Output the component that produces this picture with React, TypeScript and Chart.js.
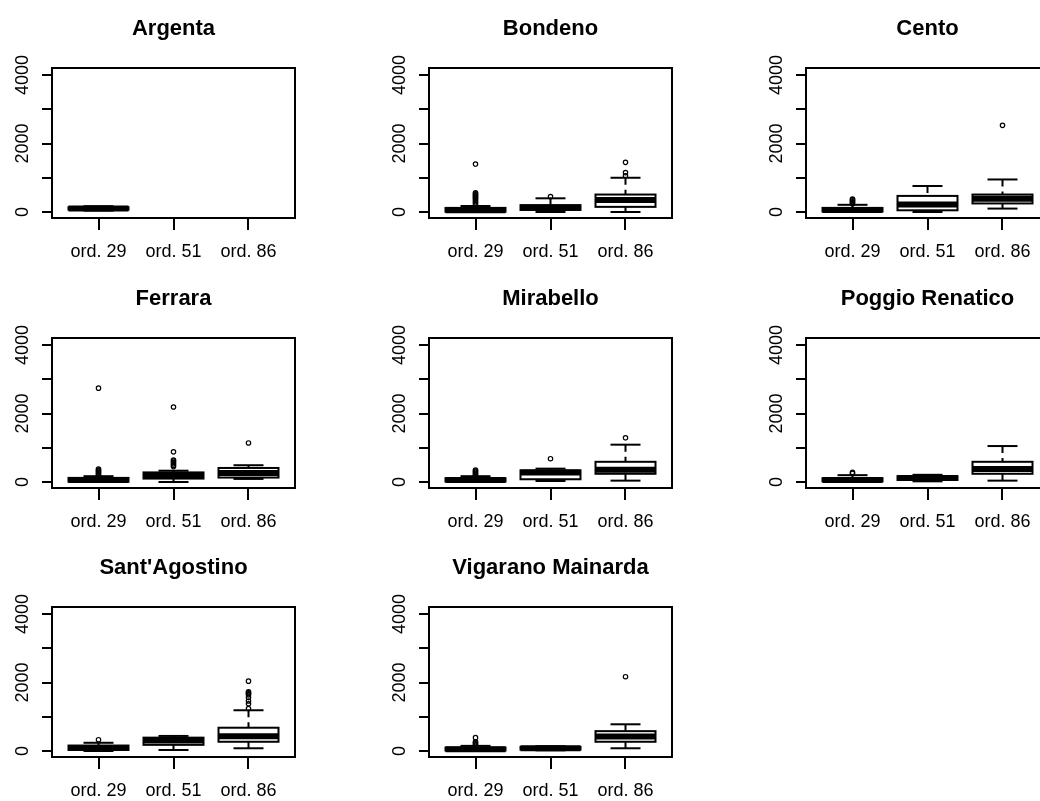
import React, { useEffect, useRef } from "react";
import { Chart, registerables } from "chart.js";

Chart.register(...registerables);

const FONT = '"Liberation Sans", Arial, Helvetica, sans-serif';

const groups = ["ord. 29", "ord. 51", "ord. 86"];
const towns = [
  "Argenta",
  "Bondeno",
  "Cento",
  "Ferrara",
  "Mirabello",
  "Poggio Renatico",
  "Sant'Agostino",
  "Vigarano Mainarda",
];
const yTickValues = [0, 1000, 2000, 3000, 4000];
const yTickLabels = ["0", "", "2000", "", "4000"];
const yMin = -175;
const yMax = 4205;
const xMin = 0.38;
const xMax = 3.62;

// [lower whisker, Q1, median, Q3, upper whisker] per group (null = no data)
const argentaStats = [[40, 70, 105, 140, 170], null, null];
const argentaOutliers = [[], [], []];
const bondenoStats = [[0, 10, 50, 120, 175], [0, 60, 130, 200, 400], [0, 150, 350, 510, 1000]];
const bondenoOutliers = [[220, 260, 300, 340, 380, 410, 440, 470, 500, 530, 560, 1400], [450], [1060, 1150, 1450]];
const centoStats = [[0, 15, 60, 120, 210], [0, 50, 220, 470, 760], [100, 250, 390, 510, 950]];
const centoOutliers = [[240, 270, 300, 330, 360, 380], [], [2530]];
const ferraraStats = [[0, 10, 60, 120, 170], [0, 100, 190, 280, 330], [90, 130, 260, 410, 490]];
const ferraraOutliers = [[200, 230, 260, 290, 320, 350, 380, 2740], [450, 490, 530, 570, 610, 640, 880, 2190], [1140]];
const mirabelloStats = [[0, 15, 60, 110, 170], [30, 80, 280, 340, 390], [40, 240, 360, 590, 1090]];
const mirabelloOutliers = [[200, 230, 260, 290, 320, 350], [680], [1290]];
const poggioStats = [[0, 20, 60, 110, 200], [20, 60, 120, 170, 210], [40, 240, 380, 590, 1050]];
const poggioOutliers = [[250, 280], [], []];
const santAgostinoStats = [[0, 30, 90, 160, 240], [30, 180, 310, 390, 440], [80, 270, 430, 680, 1190]];
const santAgostinoOutliers = [[330], [], [1240, 1380, 1460, 1560, 1640, 1670, 1700, 1730, 2040]];
const vigaranoStats = [[0, 15, 50, 100, 150], [20, 40, 80, 120, 140], [80, 270, 420, 580, 780]];
const vigaranoOutliers = [[180, 210, 240, 270, 390], [], [2170]];

const allStats = [argentaStats, bondenoStats, centoStats, ferraraStats, mirabelloStats, poggioStats, santAgostinoStats, vigaranoStats];
const allOutliers = [argentaOutliers, bondenoOutliers, centoOutliers, ferraraOutliers, mirabelloOutliers, poggioOutliers, santAgostinoOutliers, vigaranoOutliers];

const colLeft = [0, 377, 754];
const rowTop = [0, 270, 539];
const PW = 377;
const PH = 270;

function makeBoxPlugin(stats: (number[] | null)[]) {
  return {
    id: "rbox",
    beforeDatasetsDraw(chart: any) {
      const { ctx, chartArea: ca, scales } = chart;
      const x = scales.x;
      const y = scales.y;
      const seg = (x1: number, y1: number, x2: number, y2: number) => {
        ctx.beginPath();
        ctx.moveTo(x1, y1);
        ctx.lineTo(x2, y2);
        ctx.stroke();
      };
      ctx.save();
      ctx.strokeStyle = "#000";
      ctx.lineCap = "butt";
      stats.forEach((s, i) => {
        if (!s) return;
        const cx = x.getPixelForValue(i + 1);
        const hw = x.getPixelForValue(i + 1.4) - cx;
        const sw = hw / 2;
        const [lo, q1, med, q3, hi] = s.map((v) => y.getPixelForValue(v));
        ctx.lineWidth = 2;
        ctx.setLineDash([7, 5]);
        seg(cx, hi, cx, q3);
        seg(cx, lo, cx, q1);
        ctx.setLineDash([]);
        seg(cx - sw, hi, cx + sw, hi);
        seg(cx - sw, lo, cx + sw, lo);
        ctx.fillStyle = "#fff";
        ctx.fillRect(cx - hw, q3, 2 * hw, q1 - q3);
        ctx.strokeRect(cx - hw, q3, 2 * hw, q1 - q3);
        ctx.lineWidth = 6;
        seg(cx - hw, med, cx + hw, med);
      });
      ctx.lineWidth = 2;
      ctx.strokeRect(ca.left, ca.top, ca.right - ca.left, ca.bottom - ca.top);
      // rotated y tick labels
      ctx.fillStyle = "#000";
      ctx.font = `18px ${FONT}`;
      ctx.textAlign = "center";
      ctx.textBaseline = "middle";
      yTickValues.forEach((v, i) => {
        const lab = yTickLabels[i];
        if (!lab) return;
        const py = y.getPixelForValue(v);
        ctx.save();
        ctx.translate(ca.left - 29, py);
        ctx.rotate(-Math.PI / 2);
        ctx.fillText(lab, 0, 0);
        ctx.restore();
      });
      ctx.restore();
    },
  };
}

function Panel({ idx }: { idx: number }) {
  const ref = useRef<HTMLCanvasElement | null>(null);
  useEffect(() => {
    const stats = allStats[idx];
    const outliers = allOutliers[idx];
    const pts = outliers.flatMap((arr, i) => arr.map((v) => ({ x: i + 1, y: v })));
    const chart = new Chart(ref.current as HTMLCanvasElement, {
      type: "scatter",
      data: {
        datasets: [
          {
            data: pts,
            pointStyle: "circle",
            pointRadius: 2.2,
            pointBorderWidth: 1.2,
            pointBorderColor: "#000",
            pointBackgroundColor: "rgba(0,0,0,0)",
            showLine: false,
          } as any,
        ],
      },
      options: {
        animation: false,
        responsive: false,
        devicePixelRatio: 1,
        events: [],
        layout: { padding: { left: 0, right: PW - 295, top: 0, bottom: 0 } },
        plugins: {
          legend: { display: false },
          tooltip: { enabled: false },
          title: {
            display: true,
            text: towns[idx],
            color: "#000",
            fullSize: false,
            font: { family: FONT, size: 22, weight: "bold", lineHeight: 1.2 },
            padding: { top: 15.3, bottom: 26.3 },
          },
        },
        scales: {
          x: {
            type: "linear",
            min: xMin,
            max: xMax,
            afterBuildTicks: (s: any) => {
              s.ticks = groups.map((_, i) => ({ value: i + 1 }));
            },
            afterFit: (s: any) => {
              s.height = PH - 218;
            },
            ticks: {
              autoSkip: false,
              maxRotation: 0,
              minRotation: 0,
              padding: 11,
              color: "#000",
              font: { family: FONT, size: 18 },
              callback: (v: any) => groups[Math.round(Number(v)) - 1] ?? "",
            },
            grid: { display: true, drawOnChartArea: false, drawTicks: true, tickLength: 12, color: "#000", lineWidth: 2 },
            border: { display: false },
          },
          y: {
            type: "linear",
            min: yMin,
            max: yMax,
            afterBuildTicks: (s: any) => {
              s.ticks = yTickValues.map((v) => ({ value: v }));
            },
            afterFit: (s: any) => {
              s.width = 52;
            },
            ticks: { display: false },
            grid: { display: true, drawOnChartArea: false, drawTicks: true, tickLength: 10, color: "#000", lineWidth: 2 },
            border: { display: false },
          },
        },
      } as any,
      plugins: [makeBoxPlugin(stats)],
    });
    return () => chart.destroy();
  }, [idx]);
  const col = idx % 3;
  const row = Math.floor(idx / 3);
  return (
    <canvas
      ref={ref}
      width={PW}
      height={PH}
      style={{ position: "absolute", left: colLeft[col], top: rowTop[row], width: PW, height: PH }}
    />
  );
}

export default function App() {
  return (
    <div
      style={{
        position: "absolute",
        left: 0,
        top: 0,
        width: 1040,
        height: 801,
        overflow: "hidden",
        background: "#fff",
      }}
    >
      {towns.map((_, i) => (
        <Panel key={i} idx={i} />
      ))}
    </div>
  );
}
